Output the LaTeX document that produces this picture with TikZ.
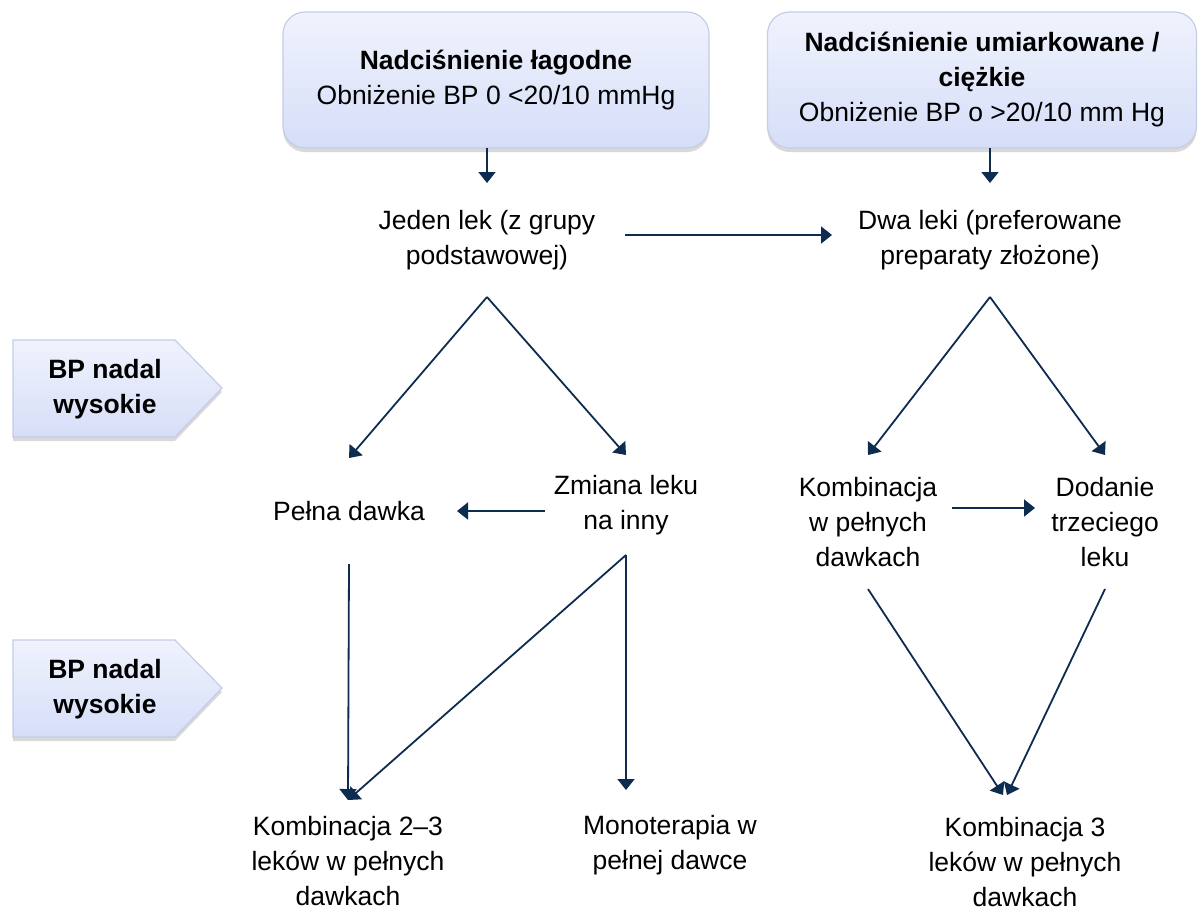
\documentclass[tikz,border=0pt]{standalone}
\usepackage{fontspec}
\setmainfont{Liberation Sans}
\usetikzlibrary{arrows.meta,shadows}
\definecolor{navy}{HTML}{0E2B50}
\definecolor{boxtop}{HTML}{F0F3FD}
\definecolor{boxbot}{HTML}{D6DEF8}
\definecolor{boxedge}{HTML}{C5CDE5}
\begin{document}
\begin{tikzpicture}[x=1pt,y=-1pt,
  every node/.style={font=\fontsize{26.5}{35}\selectfont, align=center, inner sep=0pt, outer sep=0pt},
  bold/.style={font=\fontsize{26.5}{35}\selectfont\bfseries},
  topbox/.style={rounded corners=22pt, draw=boxedge, line width=1.2pt, top color=boxtop, bottom color=boxbot, minimum height=136pt, drop shadow={shadow xshift=0pt, shadow yshift=-4pt, opacity=0.3}},
  penta/.style={draw=boxedge, line width=1.2pt, top color=boxtop, bottom color=boxbot, drop shadow={shadow xshift=0pt, shadow yshift=-4pt, opacity=0.3}},
  arr/.style={draw=navy, line width=1.8pt, -{Triangle[width=17pt,length=11pt]}},
]
\useasboundingbox (0,0) rectangle (1201,911);

% top boxes
\node[topbox, minimum width=426pt] (top1) at (496,80) {{\bfseries Nadciśnienie łagodne}\\Obniżenie BP 0 <20/10 mmHg};
\node[topbox, minimum width=429pt] (top2) at (982,80) {{\bfseries Nadciśnienie umiarkowane /}\\{\bfseries ciężkie}\\Obniżenie BP o >20/10 mm Hg};

% side markers
\path[penta] (13,340) -- (175,340) -- (222,388) -- (175,437) -- (13,437) -- cycle;
\node[bold] (bp1) at (105,389) {BP nadal\\wysokie};
\path[penta] (13,640) -- (175,640) -- (222,688) -- (175,737) -- (13,737) -- cycle;
\node[bold] (bp2) at (105,689) {BP nadal\\wysokie};

% text nodes
\node[minimum width=276pt, minimum height=114pt] (jeden) at (487,240) {Jeden lek (z grupy\\podstawowej)};
\node[minimum width=316pt, minimum height=114pt] (dwa) at (990,240) {Dwa leki (preferowane\\preparaty złożone)};
\node[minimum width=216pt, minimum height=106pt] (pelna) at (349,511) {Pełna dawka};
\node[minimum width=162pt, minimum height=100pt] (zmiana) at (626,505) {Zmiana leku\\na inny};
\node[minimum width=168pt, minimum height=134pt] (komb) at (868,522) {Kombinacja\\w pełnych\\dawkach};
\node[minimum width=140pt, minimum height=134pt] (dodanie) at (1105,522) {Dodanie\\trzeciego\\leku};
\node[minimum height=122pt] (komb23) at (348,861) {Kombinacja 2–3\\leków w pełnych\\dawkach};
\node[minimum height=110pt] (mono) at (670,845) {Monoterapia w\\pełnej dawce};
\node[minimum height=134pt] (komb3) at (1025,862) {Kombinacja 3\\leków w pełnych\\dawkach};

% connectors
\draw[arr] (jeden.north |- top1.south) -- (jeden.north);
\draw[arr] (dwa.north |- top2.south) -- (dwa.north);
\draw[arr] ([yshift=5pt]jeden.east) -- ([yshift=5pt]dwa.west);
\draw[arr] (jeden.south) -- (pelna.north);
\draw[arr] (jeden.south) -- (zmiana.north);
\draw[arr] (dwa.south) -- (komb.north);
\draw[arr] (dwa.south) -- (dodanie.north);
\draw[arr] (zmiana.west |- pelna.east) -- (pelna.east);
\draw[arr] ([yshift=14pt]komb.east) -- ([yshift=14pt]dodanie.west);
\draw[arr] (pelna.south) -- (komb23.north);
\draw[arr] (zmiana.south) -- (komb23.north);
\draw[arr] (zmiana.south) -- (zmiana.south |- mono.north);
\draw[arr] (komb.south) -- ([xshift=-22pt]komb3.north);
\draw[arr] (dodanie.south) -- ([xshift=-18pt]komb3.north);
\end{tikzpicture}
\end{document}
